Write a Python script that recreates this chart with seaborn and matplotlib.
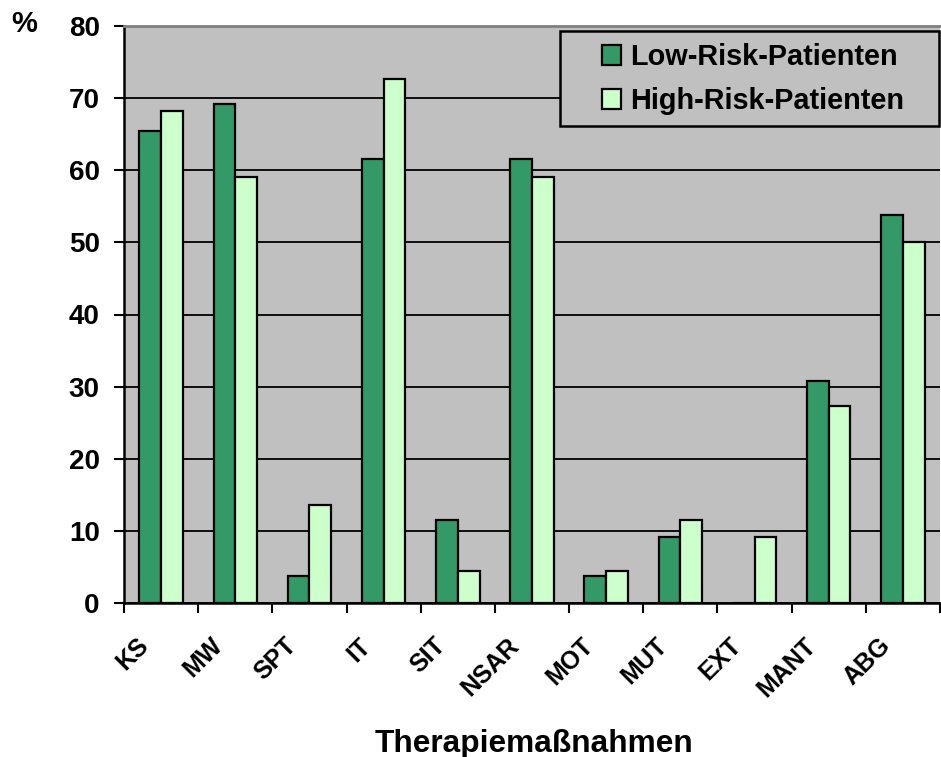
import numpy as np
import pandas as pd
import matplotlib
matplotlib.use("Agg")
import matplotlib.pyplot as plt
import matplotlib.transforms as mtransforms
from matplotlib.patches import Rectangle, Patch
import seaborn as sns

categories = ["KS", "MW", "SPT", "IT", "SIT", "NSAR", "MOT", "MUT", "EXT", "MANT", "ABG"]
low_risk = [65.4, 69.2, 3.8, 61.5, 11.5, 61.5, 3.8, 9.1, 0.0, 30.8, 53.8]
high_risk = [68.2, 59.1, 13.6, 72.7, 4.5, 59.1, 4.5, 11.5, 9.1, 27.3, 50.0]
series_names = ["Low-Risk-Patienten", "High-Risk-Patienten"]
y_ticks = [0, 10, 20, 30, 40, 50, 60, 70, 80]
x_title = "Therapiemaßnahmen"
y_unit = "%"

colors = ["#339966", "#CCFFCC"]

sns.set_theme(style="white")
plt.rcParams["font.family"] = ["Liberation Sans", "DejaVu Sans"]
plt.rcParams["font.weight"] = "bold"
for key in ["text.color", "axes.labelcolor", "xtick.color", "ytick.color"]:
    plt.rcParams[key] = "black"

df = pd.DataFrame({
    "Kategorie": categories * 2,
    "Wert": low_risk + high_risk,
    "Gruppe": [series_names[0]] * len(categories) + [series_names[1]] * len(categories),
})

W, H = 941, 757
fig = plt.figure(figsize=(W / 100, H / 100), dpi=100)
ax_l, ax_r, ax_t, ax_b = 124, 940, 26, 603
ax = fig.add_axes([ax_l / W, (H - ax_b) / H, (ax_r - ax_l) / W, (ax_b - ax_t) / H])
ax.set_facecolor("#C0C0C0")

sns.barplot(data=df, x="Kategorie", y="Wert", hue="Gruppe", order=categories,
            hue_order=series_names, palette=colors, saturation=1, width=0.585,
            edgecolor="black", linewidth=1.6, ax=ax, legend=False, zorder=3)

ax.set_xlim(-0.5, len(categories) - 0.5)
ax.set_ylim(0, 80)
ax.set_yticks(y_ticks)
ax.set_yticklabels([str(t) for t in y_ticks], fontsize=20, fontweight="bold", color="black")
ax.yaxis.grid(True, color="black", linewidth=1.3)
ax.xaxis.grid(False)
ax.set_axisbelow(True)

# x ticks: labels at centres, tick marks at category boundaries
ax.set_xticks(range(len(categories)))
ax.set_xticklabels(categories, fontsize=18, fontweight="bold", rotation=45, ha="right", color="black")
ax.set_xticks(np.arange(-0.5, len(categories)), minor=True)
ax.tick_params(axis="x", which="major", length=0, pad=22)
ax.tick_params(axis="x", which="minor", length=7, width=1.5, color="black", direction="out", bottom=True)
ax.tick_params(axis="y", length=7.5, width=1.5, color="black", direction="out", pad=10, left=True)
offset = mtransforms.ScaledTranslation(-8 / 100, 0, fig.dpi_scale_trans)
for lbl in ax.get_xticklabels():
    lbl.set_transform(lbl.get_transform() + offset)

for side in ["left", "bottom"]:
    ax.spines[side].set_color("black")
    ax.spines[side].set_linewidth(1.8)
ax.spines["top"].set_color("#808080")
ax.spines["top"].set_linewidth(2)
ax.spines["right"].set_visible(False)

ax.set_ylabel("")
ax.set_xlabel(x_title, fontsize=22.8, fontweight="bold", va="baseline", color="black")
ax.xaxis.set_label_coords((534 - ax_l) / (ax_r - ax_l), (ax_b - 751.7) / (ax_b - ax_t))

fig.text(11 / W, 1 - 10 / H, y_unit, fontsize=21, fontweight="bold", ha="left", va="top", color="black")

# legend box
aw, ah = ax_r - ax_l, ax_b - ax_t
box = Rectangle(((560 - ax_l) / aw, (ax_b - 126) / ah), (939 - 560) / aw, (126 - 31) / ah,
                transform=ax.transAxes, facecolor="#C0C0C0", edgecolor="black",
                linewidth=1.8, zorder=5, clip_on=False)
ax.add_patch(box)
handles = [Patch(facecolor=c, edgecolor="black", linewidth=1.6) for c in colors]
leg = ax.legend(handles, series_names, loc="upper left",
                bbox_to_anchor=((602 - ax_l) / aw, (ax_b - 43) / ah),
                frameon=False, prop={"weight": "bold", "size": 20.8},
                handlelength=0.66, handleheight=0.66, handletextpad=0.3,
                labelspacing=0.56, borderpad=0, borderaxespad=0)
for t in leg.get_texts():
    t.set_color("black")
leg.set_zorder(6)

fig.savefig("out.png", dpi=100)
